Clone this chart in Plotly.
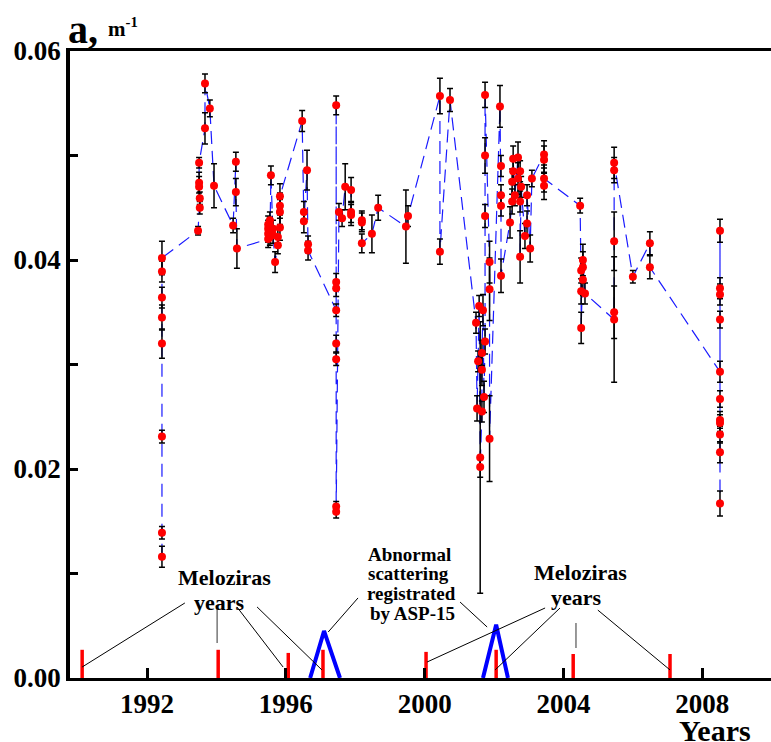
import plotly.graph_objects as go

# ---------------- data ----------------
sample_year = (
    [1992.43] * 8
    + [1993.47, 1993.52, 1993.52, 1993.50, 1993.50, 1993.50, 1993.67, 1993.67, 1993.81, 1993.93]
    + [1994.48, 1994.56, 1994.56, 1994.59]
    + [1995.49] * 4 + [1995.54] * 4 + [1995.57, 1995.63, 1995.63, 1995.69, 1995.77, 1995.77]
    + [1995.83] * 4
    + [1996.47, 1996.52, 1996.52, 1996.61, 1996.64, 1996.64]
    + [1997.45] * 8
    + [1997.53, 1997.62, 1997.71, 1997.88, 1997.88, 1997.88, 1998.19, 1998.19, 1998.19,
       1998.48, 1998.66, 1999.46, 1999.52, 2000.44, 2000.44, 2000.73]
    + [2001.48, 2001.51, 2001.54, 2001.57, 2001.60, 2001.60, 2001.65, 2001.65, 2001.65,
       2001.68, 2001.71, 2001.74, 2001.74, 2001.74, 2001.74, 2001.87, 2001.87, 2001.87]
    + [2002.17, 2002.20, 2002.20, 2002.20, 2002.20]
    + [2002.46, 2002.52, 2002.52, 2002.55, 2002.55, 2002.60, 2002.69, 2002.69, 2002.75,
       2002.75, 2002.75, 2002.78, 2002.89, 2002.95, 2002.95, 2003.04, 2003.09]
    + [2003.44] * 4
    + [2004.48, 2004.51, 2004.51, 2004.51, 2004.56, 2004.56, 2004.56, 2004.62]
    + [2005.46] * 5
    + [2006.00, 2006.49, 2006.49]
    + [2008.51] * 11
)

absorption = [
    0.0116, 0.0139, 0.0231, 0.0320, 0.0345, 0.0364, 0.0389, 0.0402,
    0.0428, 0.0450, 0.0459, 0.0470, 0.0474, 0.0493, 0.0526, 0.0569, 0.0545, 0.0471,
    0.0433, 0.0494, 0.0465, 0.0411,
    0.0420, 0.0425, 0.0430, 0.0434, 0.0438, 0.0433, 0.0428, 0.0422,
    0.0481, 0.0430, 0.0424, 0.0398, 0.0414, 0.0422,
    0.0431, 0.0446, 0.0452, 0.0461,
    0.0533, 0.0446, 0.0437, 0.0486, 0.0415, 0.0409,
    0.0352, 0.0373, 0.0379, 0.0548, 0.0320, 0.0305, 0.0164, 0.0159,
    0.0446, 0.0440, 0.0470, 0.0467, 0.0446, 0.0443, 0.0438, 0.0436, 0.0416,
    0.0425, 0.0450, 0.0432, 0.0442, 0.0557, 0.0408, 0.0553,
    0.0340, 0.0258, 0.0303, 0.0356, 0.0211, 0.0202, 0.0255, 0.0295, 0.0311,
    0.0352, 0.0269, 0.0322, 0.0442, 0.0500, 0.0558, 0.0398, 0.0372, 0.0229,
    0.0547, 0.0490, 0.0462, 0.0452, 0.0385,
    0.0436, 0.0456, 0.0475, 0.0485, 0.0497, 0.0462, 0.0498, 0.0478, 0.0485,
    0.0456, 0.0403, 0.0470, 0.0423, 0.0435, 0.0462, 0.0411, 0.0478,
    0.0501, 0.0496, 0.0471, 0.0478,
    0.0452, 0.0390, 0.0370, 0.0335, 0.0381, 0.0393, 0.0400, 0.0368,
    0.0343, 0.0350, 0.0418, 0.0486, 0.0493,
    0.0384, 0.0416, 0.0393,
    0.0293, 0.0343, 0.0367, 0.0373, 0.0428, 0.0267, 0.0247, 0.0244, 0.0233, 0.0216, 0.0167,
]

abs_error = [
    0.0010, 0.0006, 0.0006, 0.0014, 0.0012, 0.0010, 0.0010, 0.0016,
    0.0004, 0.0006, 0.0006, 0.0010, 0.0010, 0.0005, 0.0015, 0.0009, 0.0008, 0.0021,
    0.0007, 0.0009, 0.0013, 0.0019,
    0.0008, 0.0008, 0.0008, 0.0008, 0.0008, 0.0008, 0.0008, 0.0008,
    0.0009, 0.0008, 0.0008, 0.0010, 0.0008, 0.0008,
    0.0012, 0.0012, 0.0012, 0.0012,
    0.0010, 0.0010, 0.0011, 0.0019, 0.0008, 0.0009,
    0.0006, 0.0008, 0.0008, 0.0009, 0.0008, 0.0006, 0.0005, 0.0006,
    0.0008, 0.0008, 0.0022, 0.0012, 0.0010, 0.0010, 0.0009, 0.0009, 0.0009,
    0.0018, 0.0012, 0.0035, 0.0010, 0.0017, 0.0012, 0.0011,
    0.0010, 0.0012, 0.0010, 0.0010, 0.0130, 0.0010, 0.0010, 0.0015, 0.0012,
    0.0015, 0.0015, 0.0012, 0.0011, 0.0017, 0.0012, 0.0020, 0.0030, 0.0041,
    0.0020, 0.0010, 0.0010, 0.0010, 0.0016,
    0.0015, 0.0012, 0.0012, 0.0012, 0.0012, 0.0010, 0.0015, 0.0015, 0.0010,
    0.0010, 0.0025, 0.0010, 0.0012, 0.0012, 0.0010, 0.0013, 0.0008,
    0.0013, 0.0013, 0.0013, 0.0013,
    0.0007, 0.0012, 0.0012, 0.0015, 0.0015, 0.0015, 0.0015, 0.0010,
    0.0060, 0.0025, 0.0028, 0.0012, 0.0015,
    0.0006, 0.0011, 0.0011,
    0.0010, 0.0008, 0.0010, 0.0010, 0.0011, 0.0008, 0.0008, 0.0008, 0.0008, 0.0010, 0.0012,
]

meloziras_years = [1990.13, 1994.05, 1996.07, 1997.07, 2000.04, 2002.06, 2004.28, 2007.07]
meloziras_marks = [0.0027, 0.0027, 0.0024, 0.0027, 0.0025, 0.0027, 0.0023, 0.0023]

asp15_start = [1996.70, 2001.68]
asp15_peak = [1997.10, 2002.06]
asp15_end = [1997.56, 2002.40]
asp15_height = [0.0045, 0.0051]

x_tick_vals = [1992, 1996, 2000, 2004, 2008]
x_tick_text = ["1992", "1996", "2000", "2004", "2008"]
y_tick_vals = [0.00, 0.02, 0.04, 0.06]
y_tick_text = ["0.00", "0.02", "0.04", "0.06"]
y_minor_vals = [0.01, 0.03, 0.05]

# leader lines of the callouts (x0, y0, x1, y1, colour)
leader_lines = [
    (1993.09, 0.00718, 1990.13, 0.00105, "black"),
    (1994.02, 0.00660, 1994.02, 0.00335, "#777777"),
    (1994.59, 0.00680, 1995.92, 0.00105, "black"),
    (1995.17, 0.00680, 1997.04, 0.00077, "black"),
    (1998.08, 0.00766, 1997.22, 0.00440, "black"),
    (2001.02, 0.00727, 2001.80, 0.00488, "black"),
    (2003.47, 0.00670, 2000.07, 0.00153, "black"),
    (2003.90, 0.00670, 2002.03, 0.00077, "black"),
    (2004.36, 0.00526, 2004.36, 0.00287, "#777777"),
    (2004.99, 0.00650, 2007.07, 0.00077, "black"),
]

# ---------------- figure ----------------
X_RANGE = [1989.78, 2009.98]
Y_RANGE = [0.0, 0.06]
L, R, T, B = 70, 0, 51, 64
W, H = 771, 742
PW, PH = W - L - R, H - T - B

def px_x(px):
    return (px - L) / PW

def px_y(py):
    return (H - B - py) / PH

SERIF = "Liberation Serif, Times New Roman, serif"

fig = go.Figure()

# dashed connecting line
fig.add_trace(go.Scatter(
    x=sample_year, y=absorption, mode="lines",
    line=dict(color="#1a1aff", width=1.2, dash="13px,7px"),
    hoverinfo="skip", showlegend=False,
))

# Meloziras years marks
mx, my = [], []
for yr, h in zip(meloziras_years, meloziras_marks):
    mx += [yr, yr, None]
    my += [0, h, None]
fig.add_trace(go.Scatter(x=mx, y=my, mode="lines",
                         line=dict(color="#ff0000", width=3.5),
                         showlegend=False, hoverinfo="skip"))

# ASP-15 abnormal scattering triangles
tx, ty = [], []
for s, p, e, h in zip(asp15_start, asp15_peak, asp15_end, asp15_height):
    tx += [s, p, e, None]
    ty += [0, h, 0, None]
fig.add_trace(go.Scatter(x=tx, y=ty, mode="lines",
                         line=dict(color="#0000ff", width=4),
                         showlegend=False, hoverinfo="skip"))

# measured points with error bars
fig.add_trace(go.Scatter(
    x=sample_year, y=absorption, mode="markers",
    marker=dict(color="#ff0000", size=8, line=dict(width=0)),
    error_y=dict(type="data", array=abs_error, color="black", thickness=1.5, width=3),
    showlegend=False,
))

shapes = []
for x0, y0, x1, y1, c in leader_lines:
    shapes.append(dict(type="line", xref="x", yref="y", x0=x0, y0=y0, x1=x1, y1=y1,
                       line=dict(color=c, width=1.5 if c != "black" else 1)))

ann = []
def txt(text, px, py, size, xanchor="center", yanchor="middle"):
    ann.append(dict(text=text, x=px_x(px), y=px_y(py), xref="paper", yref="paper",
                    xanchor=xanchor, yanchor=yanchor, showarrow=False,
                    font=dict(family=SERIF, size=size, color="black", weight="bold")))

txt("a,", 66, 30, 40, xanchor="left")
txt("m<sup>-1</sup>", 106, 27, 21, xanchor="left")
txt("Meloziras", 224, 577, 22)
txt("years", 219, 602, 22)
txt("Abnormal", 409, 554, 19)
txt("scattering", 408, 573, 19)
txt("registrated", 411, 593, 19)
txt("by ASP-15", 412, 613, 19)
txt("Meloziras", 580, 572, 22)
txt("years", 576, 597, 22)
txt("Years", 715, 730, 30)

tickfont = dict(family=SERIF, size=27, color="black", weight="bold")

fig.update_layout(
    width=W, height=H,
    margin=dict(l=L, r=R, t=T, b=B, pad=0),
    paper_bgcolor="white", plot_bgcolor="white",
    shapes=shapes, annotations=ann,
    xaxis=dict(range=X_RANGE, showgrid=False, zeroline=False,
               showline=True, linecolor="black", linewidth=3, mirror=True,
               ticks="inside", ticklen=10, tickwidth=2.5, tickcolor="black",
               tickvals=x_tick_vals, ticktext=x_tick_text, tickfont=tickfont),
    yaxis=dict(range=Y_RANGE, showgrid=False, zeroline=False,
               showline=True, linecolor="black", linewidth=3.5,
               ticks="inside", ticklen=8, tickwidth=2.5, tickcolor="black",
               tickvals=y_tick_vals, ticktext=y_tick_text, tickfont=tickfont,
               minor=dict(tickvals=y_minor_vals, ticks="inside", ticklen=8,
                          tickwidth=2.5, tickcolor="black", showgrid=False)),
)

fig.write_html("out.html")
